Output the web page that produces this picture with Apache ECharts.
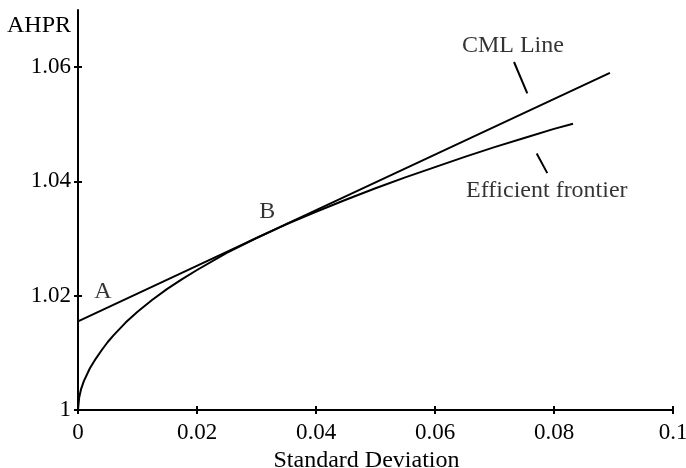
<!DOCTYPE html>
<html>
<head>
<meta charset="utf-8">
<script src="https://cdn.jsdelivr.net/npm/echarts@6/dist/echarts.min.js"></script>
<style>html,body{margin:0;padding:0;background:#fff}#chart{width:686px;height:468px}</style>
</head>
<body>
<div id="chart"></div>
<script>
// Efficient frontier (standard deviation -> AHPR)
const frontierSD   = [0, 0.0002, 0.0005, 0.001, 0.002, 0.003, 0.004, 0.005, 0.006, 0.008, 0.01, 0.0125, 0.015, 0.0175, 0.02, 0.025, 0.03, 0.035, 0.04, 0.045, 0.05, 0.055, 0.06, 0.065, 0.07, 0.075, 0.08, 0.0832];
const frontierAHPR = [1.0, 1.0022, 1.0036, 1.0051, 1.0073, 1.0090, 1.0105, 1.0119, 1.0131, 1.0153, 1.0172, 1.0193, 1.0212, 1.0229, 1.0245, 1.0275, 1.0301, 1.0325, 1.0347, 1.0368, 1.0388, 1.0407, 1.0425, 1.0443, 1.0460, 1.0476, 1.0492, 1.0501];
// Capital market line
const cmlSD   = [0, 0.0894];
const cmlAHPR = [1.0155, 1.059];
// Ticks
const xTicks = [0, 0.02, 0.04, 0.06, 0.08, 0.1];
const yTicks = [1, 1.02, 1.04, 1.06];
// Annotations: [label, x, y]
const labels = [['A', 0.0042, 1.0207], ['B', 0.0318, 1.0347], ['CML Line', 0.0731, 1.0638], ['Efficient frontier', 0.0788, 1.0384]];
const pointers = [[[0.07328, 1.0609], [0.07551, 1.0554]], [[0.07709, 1.0449], [0.07887, 1.04145]]];

const FONT = 'Liberation Serif';
const FS = 23;
const FT = 24;
const chart = echarts.init(document.getElementById('chart'), null, {renderer: 'canvas'});
const xBase = {type: 'value', min: 0, max: 0.1, interval: 0.02, splitLine: {show: false}};
const yBase = {type: 'value', min: 1, max: 1.07, splitLine: {show: false}};
chart.setOption({
  animation: false,
  backgroundColor: '#fff',
  textStyle: {fontFamily: FONT},
  grid: {left: 78, right: 13, top: 10, bottom: 58, containLabel: false, outerBoundsMode: 'none'},
  xAxis: [
    Object.assign({}, xBase, {
      name: 'Standard Deviation', nameLocation: 'middle', nameGap: 37,
      nameTextStyle: {fontFamily: FONT, fontSize: FT, color: '#000', padding: [0, 18, 0, 0]},
      axisLine: {show: true, lineStyle: {color: '#000', width: 2}},
      axisTick: {show: true, inside: false, length: 4, lineStyle: {color: '#000', width: 2}, customValues: xTicks},
      axisLabel: {fontFamily: FONT, fontSize: FS, color: '#000', margin: 11, customValues: xTicks}
    }),
    Object.assign({}, xBase, {
      position: 'bottom',
      axisLine: {show: false},
      axisTick: {show: true, inside: true, length: 4, lineStyle: {color: '#000', width: 2}, customValues: xTicks},
      axisLabel: {show: false}
    })
  ],
  yAxis: [
    Object.assign({}, yBase, {
      name: 'AHPR', nameLocation: 'end', nameGap: -16,
      nameTextStyle: {fontFamily: FONT, fontSize: FT, color: '#000', align: 'right', verticalAlign: 'middle', padding: [0, 7, 0, 0]},
      axisLine: {show: true, lineStyle: {color: '#000', width: 2}},
      axisTick: {show: true, inside: false, length: 4, lineStyle: {color: '#000', width: 2}, customValues: yTicks},
      axisLabel: {fontFamily: FONT, fontSize: FS, color: '#000', margin: 7, customValues: yTicks}
    }),
    Object.assign({}, yBase, {
      position: 'left',
      axisLine: {show: false},
      axisTick: {show: true, inside: true, length: 4, lineStyle: {color: '#000', width: 2}, customValues: yTicks},
      axisLabel: {show: false}
    })
  ],
  series: [
    {
      type: 'line', name: 'Efficient frontier', showSymbol: false, smooth: false,
      lineStyle: {color: '#000', width: 2},
      data: frontierSD.map((x, i) => [x, frontierAHPR[i]])
    },
    {
      type: 'line', name: 'CML Line', showSymbol: false,
      lineStyle: {color: '#000', width: 2},
      data: cmlSD.map((x, i) => [x, cmlAHPR[i]]),
      markLine: {
        silent: true, symbol: 'none', label: {show: false},
        lineStyle: {color: '#000', width: 2, type: 'solid'},
        data: pointers.map(p => [{coord: p[0]}, {coord: p[1]}])
      }
    },
    {
      type: 'scatter', symbolSize: 0, silent: true,
      data: labels.map(l => ({value: [l[1], l[2]], name: l[0]})),
      label: {show: true, position: 'inside', formatter: p => p.name, fontFamily: FONT, fontSize: FT, color: '#000'}
    }
  ]
});
</script>
</body>
</html>
